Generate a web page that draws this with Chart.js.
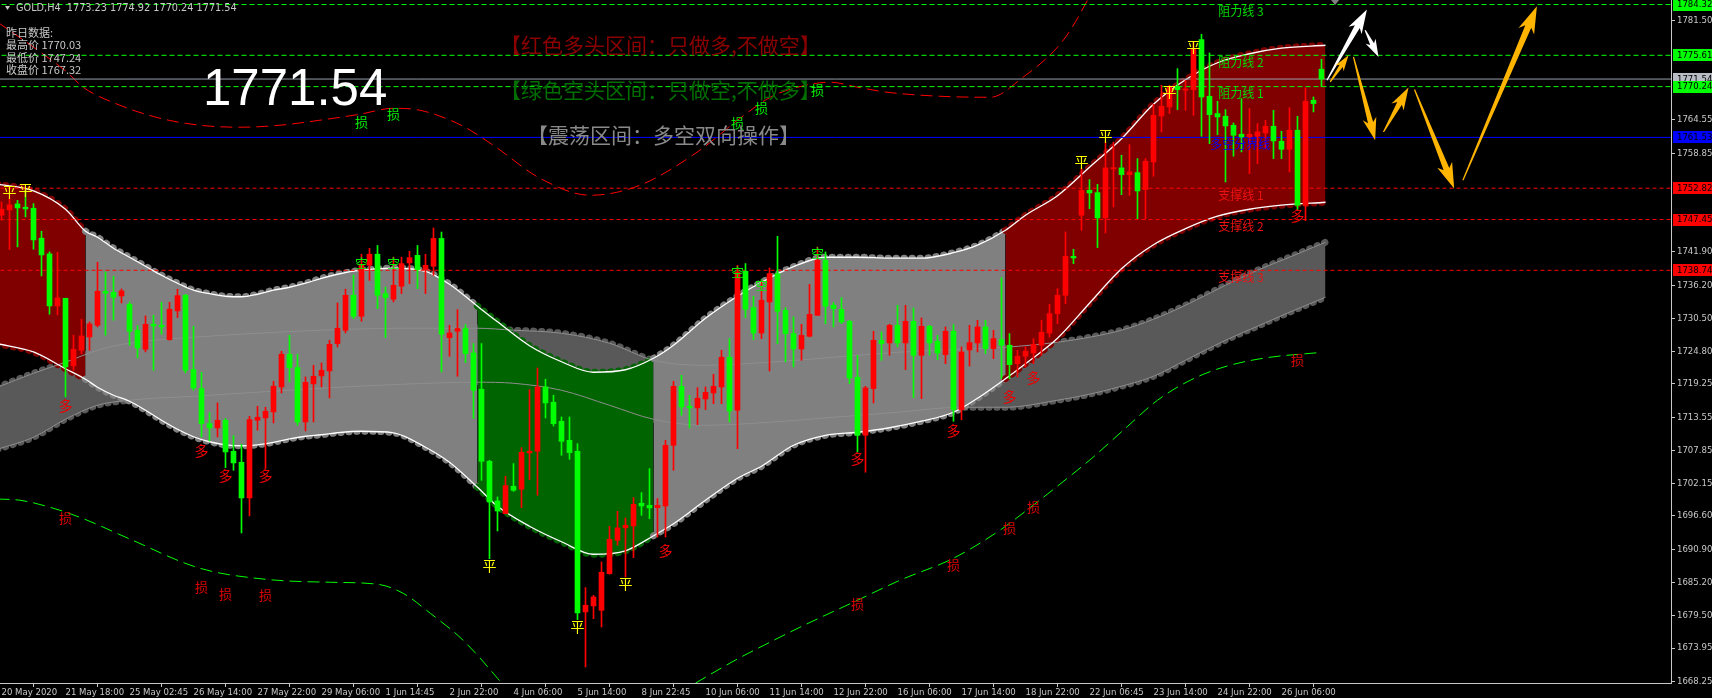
<!DOCTYPE html>
<html>
<head>
<meta charset="utf-8">
<title>GOLD H4</title>
<script src="https://cdn.jsdelivr.net/npm/chart.js@4.4.1/dist/chart.umd.min.js"></script>
<style>
  html, body { margin: 0; padding: 0; background: #000; overflow: hidden; }
  canvas { display: block; }
</style>
</head>
<body>
<canvas id="graph" width="1712" height="698"></canvas>
<script>
// GOLD,H4 candles, one entry per bar (index 0 = 20 May 2020)
const opens = [
  1748.18,1749.10,1750.12,1749.55,1749.38,1744.24,1741.55,1732.63,1733.94,1722.34,
  1725.02,1727.31,1729.31,1735.14,1734.97,1734.34,1732.91,1728.45,1725.19,1729.48,
  1729.31,1726.85,1731.77,1734.46,1721.71,1718.45,1712.44,1711.70,1713.02,1707.70,
  1705.81,1699.69,1713.02,1713.42,1714.45,1718.73,1724.34,1722.05,1712.73,1719.25,
  1720.62,1721.48,1726.17,1728.45,1734.46,1730.85,1739.60,1741.50,1734.74,1733.77,
  1736.00,1740.00,1741.30,1738.86,1739.43,1744.20,1727.19,1728.28,1728.74,1724.56,
  1718.33,1705.98,1699.18,1697.00,1701.69,1701.18,1707.41,1707.70,1718.73,1716.10,
  1712.84,1709.58,1707.70,1680.14,1681.17,1680.42,1686.71,1692.43,1694.55,1694.89,
  1698.78,1698.43,1698.03,1698.32,1708.72,1718.84,1715.42,1715.13,1716.67,1717.70,
  1718.73,1723.82,1714.73,1738.57,1732.34,1727.99,1733.31,1738.17,1731.88,1727.88,
  1725.25,1727.42,1731.02,1740.46,1732.74,1732.05,1730.00,1720.39,1710.44,1718.45,
  1726.73,1726.28,1729.31,1726.28,1729.99,1724.16,1729.14,1726.56,1724.28,1728.28,
  1714.84,1725.08,1726.28,1729.02,1725.30,1726.85,1725.88,1722.73,1723.99,1724.56,
  1725.88,1727.99,1731.31,1734.45,1741.14,1748.18,1752.46,1752.06,1747.72,1756.12,
  1756.30,1755.15,1755.49,1752.58,1757.32,1765.21,1766.76,1770.30,1769.62,1769.73,
  1778.31,1768.59,1765.62,1765.16,1763.61,1762.07,1761.61,1761.73,1762.30,1763.44,
  1760.87,1759.50,1762.76,1749.89,1767.90,1773.23
];
const highs = [
  1750.47,1751.04,1750.75,1752.47,1750.18,1745.44,1741.89,1741.83,1733.94,1727.60,
  1730.34,1729.88,1740.12,1738.46,1737.72,1735.54,1733.31,1729.25,1730.91,1731.03,
  1733.26,1733.26,1735.49,1734.63,1729.14,1721.25,1714.33,1715.99,1713.30,1710.38,
  1708.90,1713.70,1715.42,1715.25,1719.71,1724.85,1727.60,1724.34,1720.45,1722.45,
  1722.85,1726.74,1733.14,1735.50,1737.90,1741.50,1742.50,1743.00,1735.88,1741.00,
  1741.00,1742.00,1743.00,1741.50,1746.00,1745.30,1729.31,1732.00,1729.42,1726.17,
  1726.17,1706.15,1699.86,1703.41,1705.58,1708.32,1718.27,1721.99,1720.05,1717.30,
  1713.58,1713.58,1709.01,1684.31,1683.00,1688.71,1694.83,1697.40,1696.26,1699.75,
  1700.61,1704.72,1699.58,1709.58,1719.70,1720.73,1717.30,1718.61,1718.73,1720.90,
  1725.02,1727.02,1739.60,1739.89,1734.28,1737.03,1739.14,1744.57,1732.34,1730.74,
  1729.48,1736.34,1742.74,1741.89,1733.20,1734.05,1730.17,1724.16,1718.84,1728.28,
  1728.16,1729.48,1732.74,1732.74,1732.28,1730.57,1729.31,1727.59,1729.02,1729.42,
  1725.59,1729.31,1730.17,1730.17,1728.45,1737.48,1727.88,1725.02,1725.59,1727.02,
  1730.17,1732.91,1735.60,1745.32,1742.34,1756.18,1754.29,1753.49,1760.75,1760.75,
  1758.47,1760.30,1757.90,1757.90,1767.22,1770.48,1770.48,1773.33,1771.33,1777.91,
  1779.22,1776.02,1767.73,1766.30,1764.01,1768.19,1766.47,1763.90,1764.47,1766.19,
  1762.58,1766.64,1765.16,1770.03,1768.47,1774.92
];
const lows = [
  1747.32,1742.29,1742.75,1747.90,1742.35,1737.77,1731.20,1731.08,1717.02,1721.59,
  1724.45,1725.02,1729.03,1727.60,1730.17,1733.14,1725.88,1723.71,1724.74,1721.59,
  1727.77,1726.74,1730.63,1721.14,1718.16,1710.16,1709.47,1710.16,1704.90,1704.44,
  1693.69,1696.61,1711.30,1704.73,1712.56,1717.70,1719.59,1712.16,1711.19,1712.73,
  1718.73,1716.85,1725.59,1728.00,1730.45,1730.00,1737.00,1732.17,1727.19,1733.31,
  1734.74,1736.46,1735.60,1734.74,1737.89,1721.30,1723.99,1720.56,1722.91,1713.30,
  1702.72,1689.28,1694.03,1697.00,1700.83,1698.03,1702.84,1700.15,1713.41,1712.04,
  1707.01,1706.32,1678.82,1670.70,1678.99,1677.56,1686.60,1691.57,1686.14,1689.46,
  1696.72,1696.15,1693.00,1693.00,1704.43,1713.87,1711.70,1712.27,1714.84,1715.87,
  1715.87,1712.73,1708.15,1730.62,1726.85,1727.02,1721.47,1726.16,1723.02,1722.16,
  1723.30,1727.31,1731.02,1729.59,1729.02,1729.59,1719.30,1707.58,1704.10,1715.99,
  1723.30,1724.16,1725.59,1721.70,1716.90,1716.73,1724.16,1723.42,1722.73,1712.84,
  1713.13,1722.33,1724.73,1724.45,1723.59,1720.16,1720.16,1720.44,1722.16,1722.73,
  1724.16,1727.31,1729.59,1733.02,1739.88,1745.60,1749.32,1742.63,1745.15,1749.60,
  1751.72,1751.61,1747.60,1747.60,1754.87,1762.47,1765.62,1766.30,1766.19,1765.33,
  1761.73,1760.47,1762.01,1753.89,1758.30,1759.04,1755.32,1757.04,1759.61,1757.90,
  1757.90,1755.61,1749.03,1747.24,1765.90,1770.24
];
const closes = [
  1749.21,1749.95,1749.44,1749.27,1743.95,1741.38,1732.63,1734.00,1722.16,1725.19,
  1727.48,1729.54,1735.14,1734.80,1734.11,1735.20,1728.28,1725.42,1729.48,1729.20,
  1729.03,1732.06,1734.40,1721.59,1718.56,1712.44,1711.70,1713.02,1707.58,1705.70,
  1699.69,1713.13,1713.53,1714.56,1718.85,1724.34,1722.05,1712.73,1719.53,1720.56,
  1721.59,1726.05,1728.80,1734.46,1730.85,1739.60,1741.50,1734.46,1734.06,1736.17,
  1739.89,1740.90,1738.86,1739.60,1744.20,1727.77,1727.99,1728.74,1724.45,1718.16,
  1705.98,1699.00,1697.46,1701.81,1701.01,1707.52,1707.70,1718.73,1715.99,1712.44,
  1709.41,1707.47,1679.96,1681.28,1682.71,1686.94,1692.60,1694.55,1695.00,1698.60,
  1698.32,1697.98,1698.43,1708.72,1718.84,1715.30,1715.13,1716.79,1717.81,1718.84,
  1723.82,1714.61,1738.46,1732.05,1727.99,1733.60,1738.17,1731.71,1727.88,1725.25,
  1727.59,1731.19,1740.46,1732.57,1732.17,1729.88,1720.27,1710.44,1718.56,1726.73,
  1726.16,1729.31,1726.28,1729.99,1724.16,1729.14,1726.28,1724.56,1728.28,1714.84,
  1724.73,1726.33,1729.02,1725.31,1727.02,1725.88,1722.56,1723.99,1724.85,1726.05,
  1728.11,1731.31,1734.45,1741.14,1740.86,1752.46,1752.01,1747.72,1756.30,1756.35,
  1755.15,1755.61,1752.35,1757.44,1765.33,1766.87,1770.19,1769.73,1769.85,1776.77,
  1768.47,1765.44,1765.04,1763.50,1761.90,1761.61,1762.07,1762.47,1763.44,1760.93,
  1759.50,1762.76,1749.89,1767.73,1767.33,1771.54
];

// time axis (tick every 8 bars)
const xTickIdx = [0,8,16,24,32,40,48,56,64,72,80,88,96,104,112,120,128,136,144,152,160];
const xTickLabels = ['20 May 2020','21 May 18:00','25 May 02:45','26 May 14:00','27 May 22:00',
  '29 May 06:00','1 Jun 14:45','2 Jun 22:00','4 Jun 06:00','5 Jun 14:00','8 Jun 22:45',
  '10 Jun 06:00','11 Jun 14:00','12 Jun 22:00','16 Jun 06:00','17 Jun 14:00','18 Jun 22:00',
  '22 Jun 06:45','23 Jun 14:00','24 Jun 22:00','26 Jun 06:00'];
const yTicks = [1668.25,1673.95,1679.50,1685.20,1690.90,1696.60,1702.15,1707.85,1713.55,
  1719.25,1724.80,1730.50,1736.20,1741.90,1758.85,1764.55,1781.50];

// main trend channel (sampled along the bars)
const bandAX  = [-0.5,4,8,10.5,12,14,16,18,20,22,24,26,28,30,32,34,36,38,40,42,45,49,53,56,59.5,
  62,66,70,74,78,81.5,84,88,92,95,99,103,107,111,115,119,122,125.5,128,132,136,140,144,148,152,156,160,165.5];
const bandAUp = [1753.50,1752.35,1749.21,1745.44,1744.41,1742.52,1740.98,1739.43,1737.89,1736.52,
  1735.32,1734.72,1734.29,1734.20,1734.63,1735.32,1735.83,1736.52,1737.37,1738.06,1738.75,1739.09,
  1738.57,1736.35,1732.57,1729.91,1725.80,1723.05,1721.25,1721.68,1723.65,1725.88,1730.51,1734.29,
  1736.69,1739.35,1740.98,1740.98,1740.81,1740.81,1741.75,1743.04,1745.61,1748.18,1751.53,1756.41,
  1761.30,1767.22,1771.42,1774.34,1775.88,1776.83,1777.34];
const bandALo = [1726.14,1724.73,1721.85,1720.05,1718.68,1717.31,1716.28,1714.73,1713.02,1711.47,
  1710.19,1709.33,1708.81,1708.64,1708.81,1709.24,1709.84,1710.27,1710.53,1710.87,1711.13,1710.87,
  1708.39,1705.81,1701.52,1698.27,1694.84,1692.18,1690.03,1690.63,1693.21,1695.26,1699.29,1703.07,
  1705.13,1708.73,1710.44,1710.96,1711.73,1712.85,1714.39,1716.79,1720.14,1722.71,1727.08,1733.09,
  1739.00,1743.12,1745.87,1748.01,1749.21,1749.90,1750.41];
// regime of the channel: bull / range / bear / range / bull
const regimeStart = [-1, 10.5, 59.5, 81.5, 125.5];
const regimeName  = ['bull','range','bear','range','bull'];

// slower channel behind
const bandBX  = [-0.5,4,8,12,16,24,32,40,50,59.5,64,70,76,81.5,88,96,104,112,120,125.5,132,136,140,144,148,153,157,161,165.5];
const bandBUp = [1718.68,1721.08,1722.97,1725.02,1726.23,1727.25,1727.94,1728.46,1728.80,1728.80,
  1728.46,1727.94,1726.23,1723.31,1722.45,1722.97,1723.82,1724.68,1725.20,1725.54,1726.40,1727.25,
  1728.46,1730.34,1732.74,1736.17,1738.75,1740.98,1743.55];
const bandBLo = [1708.04,1710.10,1713.19,1715.59,1716.45,1717.13,1717.82,1718.51,1719.19,1719.54,
  1719.36,1718.16,1715.59,1713.19,1712.16,1712.67,1713.53,1714.39,1715.25,1715.25,1716.45,1717.48,
  1718.85,1720.56,1723.31,1726.74,1729.14,1731.54,1734.12];

// stop envelopes
const redX = [-0.5,4,8.2,10.2,14.8,19.8,24.8,29.8,34.8,39.8,44.8,49,52.3,56.1,58.6,62,67.3,73.6,79.8,
  87.3,92,96.1,99.5,103.6,107,110.7,117.3,123.6,127.7,132,133.6,136.1];
const redY = [1781.30,1777.00,1772.71,1770.14,1767.05,1764.82,1763.62,1763.28,1763.62,1764.48,1765.51,
  1766.53,1766.19,1764.48,1762.76,1759.67,1754.53,1751.61,1753.33,1759.33,1764.48,1768.42,1770.14,
  1771.00,1770.14,1769.28,1768.59,1768.42,1771.85,1777.00,1779.91,1785.92];
const green1X = [-0.5,2.3,7.3,10.7,16.1,24.8,33,41.1,47,50.2,53.6,57.7,62,64.2];
const green1Y = [1699.50,1699.30,1697.58,1695.87,1692.61,1687.63,1685.74,1685.23,1684.89,1683.34,
  1679.91,1675.28,1668.76,1665.00];
const green2X = [84.8,91.7,95.3,99.8,107,112.3,119,124.8,128.8,132.3,136.3,140.5,144.5,148.6,152.7,157.7,165.1];
const green2Y = [1666.36,1671.85,1674.42,1677.51,1682.14,1685.57,1689.35,1694.15,1698.27,1702.05,
  1706.50,1711.65,1716.45,1719.88,1722.11,1723.65,1724.68];

// horizontal levels
const resLevels = [1784.32, 1775.61, 1770.24];
const resNames  = ['阻力线 3', '阻力线 2', '阻力线 1'];
const pivotLevel = 1761.53;
const pivotName = '多空分界线';
const supLevels = [1752.82, 1747.45, 1738.74];
const supNames  = ['支撑线 1', '支撑线 2', '支撑线 3'];
const lastPrice = 1771.54;
const levelNameX = 152.1;
const pivotNameX = 151.1;

// signals
const pingIdx = [1,3,61,72,78,135,138,146,149];
const pingPrice = [1752.18,1752.64,1688.15,1677.56,1685.00,1757.32,1761.90,1769.33,1777.05];
const duoIdx = [8,25,28,33,83,107,119,126,129,162];
const duoPrice = [1715.59,1707.87,1703.58,1703.58,1690.72,1706.45,1711.30,1717.13,1720.39,1748.18];
const kongIdx = [45,49,92,95,102];
const kongPrice = [1739.95,1739.95,1738.46,1736.17,1741.61];
const stopShortIdx = [45,49,92,95,102];
const stopShortPrice = [1764.08,1765.59,1763.91,1766.48,1769.62];
const stopLongIdx = [8,25,28,33,107,119,126,129,162];
const stopLongPrice = [1696.29,1684.49,1683.17,1683.00,1681.49,1688.23,1694.61,1698.17,1723.26];

// projected path arrows (bar index / price)
const arrowX0 = [165.68,170.46,166.09,169.00,172.75,176.63,182.68];
const arrowY0 = [1771.34,1779.91,1771.05,1775.33,1762.47,1769.74,1754.18];
const arrowX1 = [170.68,172.13,168.38,171.71,175.88,181.59,191.93];
const arrowY1 = [1783.46,1775.33,1775.63,1761.05,1770.09,1752.76,1784.03];
const arrowKind = ['white','white','gold','gold','gold','gold','gold'];
const arrowSize = [15,11,10,14,14,16,17];

// yesterday info
const yHigh = 1770.03, yLow = 1747.24, yClose = 1767.32;
const barOHLC = [1773.23, 1774.92, 1770.24, 1771.54];

// ---------------------------------------------------------------
const AXIS = '#c8c8c8';
const BULL = '#ff0000', BEAR = '#00ff00';
const FILL = { bull: '#800000', range: '#808080', bear: '#006400' };
const DARK = '#595959';
const AX_FONT = 'DejaVu Sans Condensed, Liberation Sans, sans-serif';
const CJK = '"Noto Sans CJK SC", sans-serif';

const idx = opens.map((_, i) => i);
const candleColor = idx.map(i => closes[i] >= opens[i] ? BULL : BEAR);
const pts = (xs, ys) => xs.map((v, k) => ({ x: v, y: ys[k] }));
const regimeAt = v => {
  let name = regimeName[0];
  regimeStart.forEach((s, k) => { if (v >= s) name = regimeName[k]; });
  return FILL[name];
};
const segA = c => regimeAt((bandAX[c.p0DataIndex] + bandAX[c.p1DataIndex]) / 2);

const dots = { borderWidth: 7, borderDash: [0.5, 7.5], borderCapStyle: 'round', pointRadius: 0, cubicInterpolationMode: 'monotone' };
const thin = (color, w, dash) => ({ borderColor: color, borderWidth: w, borderDash: dash || [], pointRadius: 0, fill: false, cubicInterpolationMode: 'monotone' });
const hline = (v, color, dash, order) => Object.assign({ type: 'line', data: [{ x: -1, y: v }, { x: 215, y: v }], order }, thin(color, 1, dash));

const datasets = [
  Object.assign({ type: 'line', data: pts(bandBX, bandBUp), borderColor: DARK, backgroundColor: DARK, fill: '+1', order: 100 }, dots),
  Object.assign({ type: 'line', data: pts(bandBX, bandBLo), borderColor: DARK, fill: false, order: 99 }, dots),
  Object.assign({ type: 'line', data: pts(bandAX, bandAUp), fill: '+1', order: 90,
    segment: { borderColor: segA, backgroundColor: segA } }, dots),
  Object.assign({ type: 'line', data: pts(bandAX, bandALo), fill: false, order: 89,
    segment: { borderColor: segA } }, dots),
  Object.assign({ type: 'line', data: pts(bandBX, bandBUp), order: 80 }, thin('#8e8e8e', 1)),
  Object.assign({ type: 'line', data: pts(bandBX, bandBLo), order: 79 }, thin('#8e8e8e', 1)),
  Object.assign({ type: 'line', data: pts(bandAX, bandAUp), order: 78 }, thin('#ffffff', 1.3)),
  Object.assign({ type: 'line', data: pts(bandAX, bandALo), order: 77 }, thin('#ffffff', 1.3)),
  Object.assign({ type: 'line', data: pts(redX, redY), order: 70 }, thin('#ff0000', 1, [12, 6])),
  Object.assign({ type: 'line', data: pts(green1X, green1Y), order: 69 }, thin('#00ff00', 1, [12, 6])),
  Object.assign({ type: 'line', data: pts(green2X, green2Y), order: 68 }, thin('#00ff00', 1, [12, 6])),
  hline(lastPrice, '#98a0ac', [], 61),
  hline(pivotLevel, '#0000ff', [], 60),
  ...resLevels.map(v => hline(v, '#00ff00', [5, 3], 59)),
  ...supLevels.map(v => hline(v, '#ff0000', [4, 3], 58)),
  { type: 'bar', data: idx.map(i => ({ x: i, y: [lows[i], highs[i]] })), backgroundColor: candleColor,
    barThickness: 1, grouped: false, order: 20 },
  { type: 'bar', data: idx.map(i => ({ x: i, y: [Math.min(opens[i], closes[i]), Math.max(opens[i], closes[i])] })),
    backgroundColor: candleColor, barThickness: 5, minBarLength: 1, grouped: false, order: 10 }
];

function drawArrow(ctx, x0, y0, x1, y1, size, color) {
  const dx = x1 - x0, dy = y1 - y0, len = Math.hypot(dx, dy);
  const ux = dx / len, uy = dy / len, nx = -uy, ny = ux;
  const headL = size * 1.3, body = size * 0.38, barb = size * 0.3;
  const bx = x1 - ux * headL, by = y1 - uy * headL;
  ctx.fillStyle = color;
  ctx.beginPath();
  ctx.moveTo(x0 + nx * 0.6, y0 + ny * 0.6);
  ctx.lineTo(bx + nx * body / 2, by + ny * body / 2);
  ctx.lineTo(bx - ux * barb + nx * size / 2, by - uy * barb + ny * size / 2);
  ctx.lineTo(x1, y1);
  ctx.lineTo(bx - ux * barb - nx * size / 2, by - uy * barb - ny * size / 2);
  ctx.lineTo(bx - nx * body / 2, by - ny * body / 2);
  ctx.lineTo(x0 - nx * 0.6, y0 - ny * 0.6);
  ctx.closePath();
  ctx.fill();
}

const overlay = {
  id: 'overlay',
  beforeDraw(chart) {
    const c = chart.ctx;
    c.save(); c.fillStyle = '#000'; c.fillRect(0, 0, chart.width, chart.height); c.restore();
  },
  afterDatasetsDraw(chart) {
    const { ctx, chartArea: a } = chart;
    const X = v => chart.scales.x.getPixelForValue(v);
    const Y = v => chart.scales.y.getPixelForValue(v);
    ctx.save();
    ctx.beginPath(); ctx.rect(a.left, a.top, a.right - a.left, a.bottom - a.top); ctx.clip();

    // level names
    ctx.font = '12px ' + CJK; ctx.textAlign = 'left'; ctx.textBaseline = 'top';
    ctx.fillStyle = '#00dd00';
    resLevels.forEach((v, k) => ctx.fillText(resNames[k], X(levelNameX), Y(v) + 1));
    ctx.fillStyle = '#ee1111';
    supLevels.forEach((v, k) => ctx.fillText(supNames[k], X(levelNameX), Y(v) + 1));
    ctx.fillStyle = '#0000ff';
    ctx.fillText(pivotName, X(pivotNameX), Y(pivotLevel) + 1);

    // signals
    const sig = (ids, prices, txt, color, size) => {
      ctx.font = size + 'px ' + CJK; ctx.fillStyle = color;
      ctx.textAlign = 'center'; ctx.textBaseline = 'middle';
      ids.forEach((i, k) => ctx.fillText(txt, X(i), Y(prices[k])));
    };
    sig(pingIdx, pingPrice, '平', '#ffff00', 14);
    sig(duoIdx, duoPrice, '多', '#ee0000', 14);
    sig(kongIdx, kongPrice, '空', '#00ee00', 13);
    sig(stopShortIdx, stopShortPrice, '损', '#00ee00', 13);
    sig(stopLongIdx, stopLongPrice, '损', '#dd0000', 13);

    // projected path
    arrowX0.forEach((v, k) => drawArrow(ctx, X(v), Y(arrowY0[k]), X(arrowX1[k]), Y(arrowY1[k]),
      arrowSize[k], arrowKind[k] === 'white' ? '#ffffff' : '#ffb400'));

    // chart labels
    ctx.textAlign = 'left'; ctx.textBaseline = 'middle';
    ctx.font = '21px ' + CJK;
    ctx.fillStyle = '#8c0000'; ctx.fillText('【红色多头区间：只做多,不做空】', 500, 45);
    ctx.fillStyle = '#006e00'; ctx.fillText('【绿色空头区间：只做空,不做多】', 500, 90);
    ctx.fillStyle = '#8a8a8a'; ctx.fillText('【震荡区间：多空双向操作】', 527, 135);
    ctx.font = '51px "Liberation Sans", Arial, sans-serif';
    ctx.fillStyle = '#ffffff'; ctx.fillText(lastPrice.toFixed(2), 203, 91);

    // info block
    ctx.font = '11px ' + CJK; ctx.fillStyle = '#c8c8c8';
    ctx.fillText('昨日数据:', 6, 33);
    ctx.fillText('最高价 ' + yHigh.toFixed(2), 6, 45);
    ctx.fillText('最低价 ' + yLow.toFixed(2), 6, 58);
    ctx.fillText('收盘价 ' + yClose.toFixed(2), 6, 70);
    ctx.font = '10.8px ' + AX_FONT;
    ctx.fillText('GOLD,H4  ' + barOHLC.map(v => v.toFixed(2)).join(' '), 16, 8);
    ctx.beginPath(); ctx.moveTo(5, 6); ctx.lineTo(10, 6); ctx.lineTo(7.5, 10); ctx.closePath(); ctx.fill();
    // shift marker
    ctx.fillStyle = '#808080';
    ctx.beginPath(); ctx.moveTo(X(166.7) - 4, 0); ctx.lineTo(X(166.7) + 4, 0); ctx.lineTo(X(166.7), 5); ctx.closePath(); ctx.fill();
    ctx.restore();
  },
  afterDraw(chart) {
    const { ctx, chartArea: a } = chart;
    const Y = v => chart.scales.y.getPixelForValue(v);
    const box = (v, bg, fg) => {
      const y = Y(v);
      ctx.fillStyle = bg; ctx.fillRect(a.right + 2, Math.round(y) - 6, chart.width - a.right - 2, 12);
      ctx.fillStyle = fg; ctx.fillText(v.toFixed(2), a.right + 6, y);
    };
    ctx.save();
    ctx.font = '9.5px ' + AX_FONT; ctx.textAlign = 'left'; ctx.textBaseline = 'middle';
    box(lastPrice, '#b8bcc4', '#000');
    resLevels.forEach(v => box(v, '#00ff00', '#000'));
    box(pivotLevel, '#0000ff', '#000');
    supLevels.forEach(v => box(v, '#ff0000', '#000'));
    ctx.restore();
  }
};

const config = {
  type: 'line',
  data: { datasets },
  options: {
    responsive: false,
    animation: false,
    devicePixelRatio: 1,
    events: [],
    layout: { padding: 0 },
    plugins: { legend: { display: false }, tooltip: { enabled: false } },
    scales: {
      x: {
        type: 'linear', min: -0.1875, max: 208.69, offset: false,
        afterBuildTicks: s => { s.ticks = xTickIdx.map(v => ({ value: v })); },
        afterFit: s => { s.height = 15; s.paddingLeft = 0; s.paddingRight = 0; },
        ticks: { color: AXIS, font: { family: AX_FONT, size: 9.5 }, padding: 0, align: 'start',
          maxRotation: 0, minRotation: 0, autoSkip: false, callback: (v, k) => xTickLabels[k] },
        grid: { drawOnChartArea: false, tickLength: 4, color: AXIS },
        border: { color: AXIS }
      },
      y: {
        type: 'linear', position: 'right', min: 1667.95, max: 1785.10,
        afterBuildTicks: s => { s.ticks = yTicks.map(v => ({ value: v })); },
        afterFit: s => { s.width = 41; s.paddingTop = 0; s.paddingBottom = 0; },
        ticks: { color: AXIS, font: { family: AX_FONT, size: 9.5 }, padding: 2, autoSkip: false,
          callback: v => v.toFixed(2) },
        grid: { drawOnChartArea: false, tickLength: 4, color: AXIS },
        border: { color: AXIS }
      }
    }
  },
  plugins: [overlay]
};

new Chart(document.getElementById('graph').getContext('2d'), config);
</script>
</body>
</html>
